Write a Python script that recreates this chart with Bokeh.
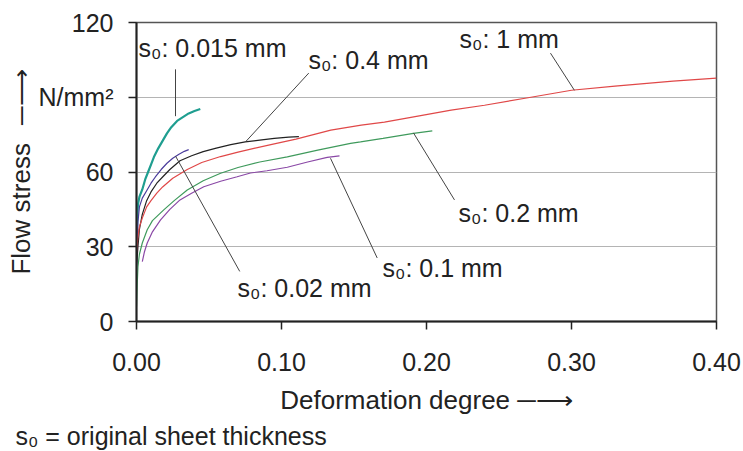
from bokeh.plotting import figure
from bokeh.models import Range1d, FixedTicker, Label, Title
from bokeh.embed import file_html
from bokeh.resources import INLINE

# ---- data ----
x_015 = [0.0, 0.0005, 0.001, 0.002, 0.004, 0.006, 0.008, 0.010, 0.012, 0.015, 0.018, 0.021, 0.024, 0.028, 0.032, 0.036, 0.040, 0.044]
y_015 = [30, 42, 47, 50, 53, 57, 60, 63, 66, 69.5, 72.5, 75.5, 78, 80.5, 82, 83.5, 84.5, 85.3]

x_002 = [0.0, 0.0005, 0.001, 0.002, 0.004, 0.007, 0.010, 0.013, 0.017, 0.021, 0.025, 0.029, 0.033, 0.036]
y_002 = [17, 30, 40, 46, 49.5, 52.5, 55.5, 58, 61, 63.5, 65.5, 67, 68.3, 69]

x_04 = [0.0, 0.001, 0.002, 0.004, 0.007, 0.010, 0.014, 0.018, 0.023, 0.030, 0.038, 0.046, 0.055, 0.065, 0.075, 0.085, 0.095, 0.105, 0.112]
y_04 = [22, 30, 37, 43, 48.5, 52, 55.5, 58, 61, 64.5, 66.5, 68.2, 69.6, 71, 72.1, 72.8, 73.5, 74, 74.2]

x_1 = [0.0, 0.001, 0.002, 0.004, 0.007, 0.010, 0.014, 0.018, 0.025, 0.035, 0.045, 0.058, 0.070, 0.081, 0.095, 0.110, 0.134, 0.155, 0.171, 0.195, 0.217, 0.240, 0.269, 0.300, 0.330, 0.350, 0.370, 0.400]
y_1 = [28, 34, 38, 41.5, 46, 48.5, 51.5, 54, 57.5, 61, 63.8, 66.2, 68, 69.5, 71.3, 73.2, 76.8, 78.8, 80, 82.5, 84.8, 86.8, 89.7, 92.8, 94.5, 95.5, 96.5, 97.7]

x_02 = [0.0, 0.0005, 0.001, 0.002, 0.004, 0.0074, 0.011, 0.0188, 0.026, 0.035, 0.046, 0.058, 0.070, 0.085, 0.104, 0.125, 0.1476, 0.1545, 0.170, 0.191, 0.204]
y_02 = [6, 15, 22, 27, 31.5, 36.8, 40.5, 44.8, 48.5, 52.8, 56.5, 59.5, 61.8, 64, 66.1, 68.8, 71.5, 72.1, 73.5, 75.5, 76.5]

x_01 = [0.004, 0.0055, 0.0074, 0.011, 0.0166, 0.023, 0.030, 0.038, 0.0464, 0.058, 0.0694, 0.0786, 0.090, 0.104, 0.118, 0.1315, 0.140]
y_01 = [24, 28, 31.5, 36, 40.8, 45, 48.8, 51.5, 54.1, 56.3, 58.1, 59.6, 60.5, 61.9, 64, 65.9, 66.5]

x_ticks = [0.0, 0.1, 0.2, 0.3, 0.4]
x_tick_labels = ["0.00", "0.10", "0.20", "0.30", "0.40"]
y_ticks = [0, 30, 60, 90, 120]
y_tick_labels = ["0", "30", "60", "N/mm\u00b2", "120"]

series_labels = ["s\u2080: 0.015 mm", "s\u2080: 0.02 mm", "s\u2080: 0.4 mm", "s\u2080: 1 mm", "s\u2080: 0.2 mm", "s\u2080: 0.1 mm"]
series_colors = ["#1f9e90", "#4a3c9c", "#222222", "#e04848", "#3f9a5c", "#8a48a6"]
series_widths = [2.2, 1.2, 1.2, 1.2, 1.2, 1.2]

# label anchor positions (data units) and leader lines
label_pos = [(0.0014, 109.6), (0.0697, 13.4), (0.1186, 104.8), (0.2228, 113.4), (0.2221, 43.6), (0.1697, 21.4)]
leader_x0 = [0.0269, 0.0269, 0.1188, 0.2855, 0.191, 0.1338]
leader_y0 = [101.2, 66.4, 99.7, 107.7, 75.7, 65.5]
leader_x1 = [0.0269, 0.0712, 0.0752, 0.302, 0.2193, 0.166]
leader_y1 = [82.4, 20.1, 72.1, 92.8, 48.8, 25.5]

x_title = "Deformation degree \u2500\u27f6"
y_title = "Flow stress\u2002\u2009\u2500\u27f6"
footnote = "s\u2080 = original sheet thickness"

FONT = "Liberation Sans"
TXT = "#222222"

p = figure(width=743, height=451, output_backend="svg", toolbar_location=None,
           x_range=Range1d(0, 0.40), y_range=Range1d(0, 120),
           min_border_left=136, min_border_right=27, min_border_top=22, min_border_bottom=129)
p.background_fill_color = "white"
p.border_fill_color = "white"
p.outline_line_color = "#555555"
p.outline_line_width = 1.5

p.xgrid.visible = False
p.ygrid.ticker = FixedTicker(ticks=[30, 60, 90])
p.ygrid.grid_line_color = "#b4b4b4"
p.ygrid.grid_line_width = 1.2

for ax in (p.xaxis[0], p.yaxis[0]):
    ax.axis_line_color = "#222222"
    ax.axis_line_width = 2
    ax.major_tick_line_color = "#222222"
    ax.major_tick_line_width = 1.5
    ax.major_tick_out = 8
    ax.major_tick_in = 0
    ax.minor_tick_out = 0
    ax.minor_tick_in = 0
    ax.major_label_text_font = FONT
    ax.major_label_text_font_size = "25px"
    ax.major_label_text_color = TXT
    ax.axis_label_text_font = FONT
    ax.axis_label_text_font_size = "26px"
    ax.axis_label_text_font_style = "normal"
    ax.axis_label_text_color = TXT

p.xaxis.ticker = FixedTicker(ticks=x_ticks)
p.xaxis.major_label_overrides = {t: l for t, l in zip(x_ticks, x_tick_labels)}
p.xaxis.major_label_standoff = 23
p.xaxis.axis_label = x_title
p.xaxis.axis_label_standoff = 11

p.yaxis.ticker = FixedTicker(ticks=y_ticks)
p.yaxis.major_label_overrides = {t: l for t, l in zip(y_ticks, y_tick_labels)}
p.yaxis.major_label_standoff = 15
p.yaxis.axis_label = y_title
p.yaxis.axis_label_standoff = 0

xs = [x_015, x_002, x_04, x_1, x_02, x_01]
ys = [y_015, y_002, y_04, y_1, y_02, y_01]
for xx, yy, c, w in zip(xs, ys, series_colors, series_widths):
    p.line(xx, yy, line_color=c, line_width=w)

p.segment(leader_x0, leader_y0, leader_x1, leader_y1, line_color="#444444", line_width=1)

for (lx, ly), txt in zip(label_pos, series_labels):
    p.add_layout(Label(x=lx, y=ly, text=txt, text_font=FONT, text_font_size="25px",
                       text_color=TXT, text_align="left", text_baseline="middle"))

p.add_layout(Title(text=footnote, align="left", offset=-121, standoff=4,
                   text_font=FONT, text_font_size="25px", text_font_style="normal",
                   text_color=TXT), "below")

open("out.html", "w").write(file_html(p, INLINE))
